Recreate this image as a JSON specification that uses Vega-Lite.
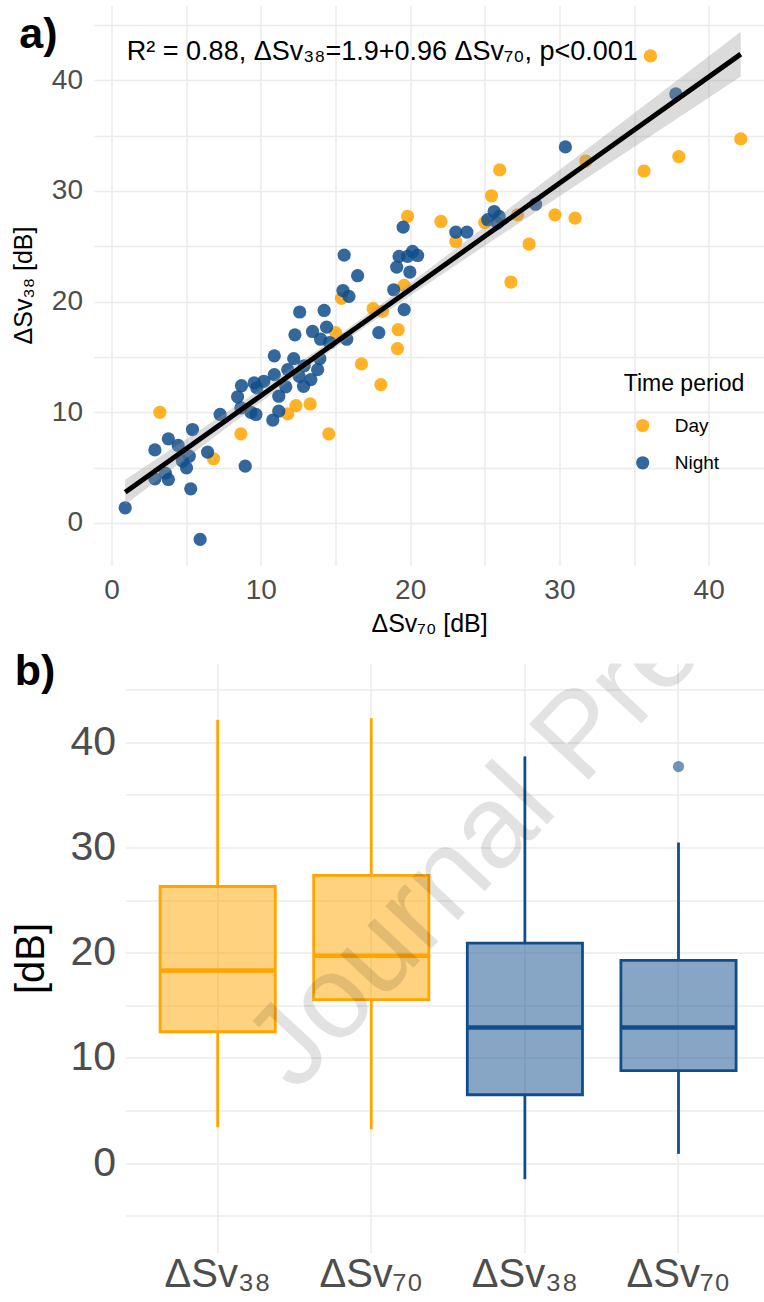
{
  "$schema": "https://vega.github.io/schema/vega-lite/v6.json",
  "padding": {"left": 10.5, "top": 5, "right": 0, "bottom": 0},
  "columns": 1,
  "align": "none",
  "spacing": 14.5,
  "config": {
    "font": "Liberation Sans",
    "view": {"stroke": null},
    "axis": {"domain": false, "ticks": false, "grid": true, "gridColor": "#EBEBEB", "gridWidth": 1.6, "labelColor": "#4D4D4D", "titleColor": "#000000", "titleFontWeight": "normal", "labelOverlap": false, "labelFlush": false}
  },
  "resolve": {"scale": {"x": "independent", "y": "independent", "color": "independent"}, "legend": {"color": "independent"}},
  "datasets": {
    "points": [
      {"period": "Day", "sv70": 36.1, "sv38": 42.2},
      {"period": "Day", "sv70": 42.15, "sv38": 34.7},
      {"period": "Day", "sv70": 38.0, "sv38": 33.1},
      {"period": "Day", "sv70": 35.67, "sv38": 31.8},
      {"period": "Day", "sv70": 31.77, "sv38": 32.7},
      {"period": "Day", "sv70": 26.0, "sv38": 31.9},
      {"period": "Day", "sv70": 25.45, "sv38": 29.56},
      {"period": "Day", "sv70": 29.7, "sv38": 27.84},
      {"period": "Day", "sv70": 31.05, "sv38": 27.54},
      {"period": "Day", "sv70": 27.2, "sv38": 27.84},
      {"period": "Day", "sv70": 25.0, "sv38": 27.15},
      {"period": "Day", "sv70": 27.97, "sv38": 25.2},
      {"period": "Day", "sv70": 26.75, "sv38": 21.77},
      {"period": "Day", "sv70": 19.83, "sv38": 27.7},
      {"period": "Day", "sv70": 22.06, "sv38": 27.24},
      {"period": "Day", "sv70": 23.06, "sv38": 25.43},
      {"period": "Day", "sv70": 19.6, "sv38": 21.46},
      {"period": "Day", "sv70": 17.52, "sv38": 19.36},
      {"period": "Day", "sv70": 18.15, "sv38": 19.12},
      {"period": "Day", "sv70": 19.2, "sv38": 17.46},
      {"period": "Day", "sv70": 19.15, "sv38": 15.75},
      {"period": "Day", "sv70": 16.74, "sv38": 14.37},
      {"period": "Day", "sv70": 18.04, "sv38": 12.5},
      {"period": "Day", "sv70": 15.4, "sv38": 20.3},
      {"period": "Day", "sv70": 15.0, "sv38": 17.2},
      {"period": "Day", "sv70": 13.3, "sv38": 10.75},
      {"period": "Day", "sv70": 12.35, "sv38": 10.6},
      {"period": "Day", "sv70": 11.8, "sv38": 9.85},
      {"period": "Day", "sv70": 14.55, "sv38": 8.05},
      {"period": "Day", "sv70": 8.66, "sv38": 8.05},
      {"period": "Day", "sv70": 3.23, "sv38": 10.0},
      {"period": "Day", "sv70": 6.83, "sv38": 5.8},
      {"period": "Night", "sv70": 15.5, "sv38": 21.0},
      {"period": "Night", "sv70": 12.6, "sv38": 19.06},
      {"period": "Night", "sv70": 14.24, "sv38": 19.2},
      {"period": "Night", "sv70": 14.4, "sv38": 17.7},
      {"period": "Night", "sv70": 12.28, "sv38": 17.0},
      {"period": "Night", "sv70": 13.46, "sv38": 17.3},
      {"period": "Night", "sv70": 14.0, "sv38": 16.6},
      {"period": "Night", "sv70": 14.6, "sv38": 16.3},
      {"period": "Night", "sv70": 15.75, "sv38": 16.6},
      {"period": "Night", "sv70": 10.9, "sv38": 15.1},
      {"period": "Night", "sv70": 12.2, "sv38": 14.85},
      {"period": "Night", "sv70": 13.95, "sv38": 14.85},
      {"period": "Night", "sv70": 12.9, "sv38": 14.2},
      {"period": "Night", "sv70": 13.8, "sv38": 13.85},
      {"period": "Night", "sv70": 11.8, "sv38": 13.85},
      {"period": "Night", "sv70": 10.9, "sv38": 13.4},
      {"period": "Night", "sv70": 12.57, "sv38": 13.25},
      {"period": "Night", "sv70": 13.35, "sv38": 12.95},
      {"period": "Night", "sv70": 10.2, "sv38": 12.8},
      {"period": "Night", "sv70": 9.55, "sv38": 12.65},
      {"period": "Night", "sv70": 8.7, "sv38": 12.4},
      {"period": "Night", "sv70": 9.73, "sv38": 12.2},
      {"period": "Night", "sv70": 11.67, "sv38": 12.3},
      {"period": "Night", "sv70": 12.86, "sv38": 12.35},
      {"period": "Night", "sv70": 8.44, "sv38": 11.4},
      {"period": "Night", "sv70": 11.2, "sv38": 11.45},
      {"period": "Night", "sv70": 8.66, "sv38": 10.4},
      {"period": "Night", "sv70": 9.33, "sv38": 10.0},
      {"period": "Night", "sv70": 9.67, "sv38": 9.8},
      {"period": "Night", "sv70": 7.27, "sv38": 9.8},
      {"period": "Night", "sv70": 10.8, "sv38": 9.3},
      {"period": "Night", "sv70": 11.2, "sv38": 10.1},
      {"period": "Night", "sv70": 5.42, "sv38": 8.44},
      {"period": "Night", "sv70": 3.8, "sv38": 7.6},
      {"period": "Night", "sv70": 2.9, "sv38": 6.6},
      {"period": "Night", "sv70": 4.46, "sv38": 7.0},
      {"period": "Night", "sv70": 5.2, "sv38": 6.03},
      {"period": "Night", "sv70": 6.43, "sv38": 6.4},
      {"period": "Night", "sv70": 4.75, "sv38": 5.58},
      {"period": "Night", "sv70": 5.02, "sv38": 4.98},
      {"period": "Night", "sv70": 8.95, "sv38": 5.13},
      {"period": "Night", "sv70": 2.9, "sv38": 3.99},
      {"period": "Night", "sv70": 3.8, "sv38": 3.93},
      {"period": "Night", "sv70": 3.6, "sv38": 4.5},
      {"period": "Night", "sv70": 5.3, "sv38": 3.08},
      {"period": "Night", "sv70": 0.91, "sv38": 1.37},
      {"period": "Night", "sv70": 5.93, "sv38": -1.49},
      {"period": "Night", "sv70": 37.8, "sv38": 38.76},
      {"period": "Night", "sv70": 30.4, "sv38": 33.98},
      {"period": "Night", "sv70": 28.4, "sv38": 28.8},
      {"period": "Night", "sv70": 25.63, "sv38": 28.14},
      {"period": "Night", "sv70": 25.96, "sv38": 27.7},
      {"period": "Night", "sv70": 25.2, "sv38": 27.4},
      {"period": "Night", "sv70": 25.85, "sv38": 27.1},
      {"period": "Night", "sv70": 19.53, "sv38": 26.73},
      {"period": "Night", "sv70": 23.06, "sv38": 26.28},
      {"period": "Night", "sv70": 23.8, "sv38": 26.28},
      {"period": "Night", "sv70": 15.58, "sv38": 24.2},
      {"period": "Night", "sv70": 19.26, "sv38": 24.08},
      {"period": "Night", "sv70": 20.16, "sv38": 24.53},
      {"period": "Night", "sv70": 20.5, "sv38": 24.17},
      {"period": "Night", "sv70": 19.83, "sv38": 24.08},
      {"period": "Night", "sv70": 19.1, "sv38": 23.12},
      {"period": "Night", "sv70": 19.98, "sv38": 22.67},
      {"period": "Night", "sv70": 16.48, "sv38": 22.34},
      {"period": "Night", "sv70": 15.9, "sv38": 20.47},
      {"period": "Night", "sv70": 18.9, "sv38": 21.07},
      {"period": "Night", "sv70": 19.6, "sv38": 19.27},
      {"period": "Night", "sv70": 17.9, "sv38": 17.2}
    ],
    "band": [
      {"sv70": 0.91, "fit": 2.774, "lo": 1.653, "hi": 3.895},
      {"sv70": 5, "fit": 6.7, "lo": 5.843, "hi": 7.557},
      {"sv70": 10, "fit": 11.5, "lo": 10.921, "hi": 12.079},
      {"sv70": 15, "fit": 16.3, "lo": 15.85, "hi": 16.75},
      {"sv70": 20, "fit": 21.1, "lo": 20.521, "hi": 21.679},
      {"sv70": 25, "fit": 25.9, "lo": 25.043, "hi": 26.757},
      {"sv70": 30, "fit": 30.7, "lo": 29.518, "hi": 31.882},
      {"sv70": 35, "fit": 35.5, "lo": 33.974, "hi": 37.026},
      {"sv70": 42.15, "fit": 42.364, "lo": 40.334, "hi": 44.394}
    ],
    "boxes": [
      {"grp": "Day_38", "period": "Day", "lower": 3.41, "q1": 12.49, "median": 18.31, "q3": 26.3, "upper": 42.15},
      {"grp": "Day_70", "period": "Day", "lower": 3.21, "q1": 15.54, "median": 19.72, "q3": 27.35, "upper": 42.3},
      {"grp": "Night_38", "period": "Night", "lower": -1.53, "q1": 6.5, "median": 12.89, "q3": 20.92, "upper": 38.67},
      {"grp": "Night_70", "period": "Night", "lower": 0.88, "q1": 8.8, "median": 12.89, "q3": 19.28, "upper": 30.48}
    ],
    "outliers": [
      {"grp": "Night_70", "period": "Night", "value": 37.7}
    ]
  },
  "concat": [
    {
      "width": 639,
      "height": 560,
      "layer": [
        {
          "data": {"name": "points"},
          "mark": {"type": "circle", "size": 175, "opacity": 0.85},
          "encoding": {
            "x": {"field": "sv70", "type": "quantitative", "scale": {"domain": [-1.2, 43.74], "range": [-31.8, 639], "nice": false, "zero": false},
              "axis": {"values": [0, 5, 10, 15, 20, 25, 30, 35, 40], "labelExpr": "datum.value % 10 == 0 ? datum.label : ''", "labelFontSize": 28, "labelPadding": 11, "title": "ΔSv₇₀ [dB]", "titleFontSize": 25, "titlePadding": 7}},
            "y": {"field": "sv38", "type": "quantitative", "scale": {"domain": [-3.8, 46.8], "nice": false, "zero": false},
              "axis": {"values": [0, 5, 10, 15, 20, 25, 30, 35, 40, 45], "labelExpr": "datum.value % 10 == 0 ? datum.label : ''", "labelFontSize": 28, "labelPadding": 43, "title": "ΔSv₃₈ [dB]", "titleFontSize": 25, "titlePadding": 15.2}},
            "color": {"field": "period", "type": "nominal", "scale": {"domain": ["Day", "Night"], "range": ["#FFA500", "#104E8B"]},
              "legend": {"orient": "none", "legendX": 498.2, "legendY": 368, "title": "Time period", "titleFontSize": 23, "titleFontWeight": "normal", "titleColor": "#000000", "titlePadding": 20, "labelFontSize": 19, "labelColor": "#000000", "symbolType": "circle", "symbolSize": 175, "symbolOpacity": 0.85, "symbolStrokeWidth": 0, "symbolOffset": 9.5, "labelOffset": 22.5, "rowPadding": 17.3, "padding": 0}}
          }
        },
        {
          "data": {"name": "band"},
          "mark": {"type": "area", "color": "#999999", "opacity": 0.35},
          "encoding": {
            "x": {"field": "sv70", "type": "quantitative"},
            "y": {"field": "lo", "type": "quantitative"},
            "y2": {"field": "hi"}
          }
        },
        {
          "data": {"name": "band"},
          "mark": {"type": "line", "color": "#000000", "strokeWidth": 5},
          "encoding": {
            "x": {"field": "sv70", "type": "quantitative"},
            "y": {"field": "fit", "type": "quantitative"}
          }
        },
        {
          "data": {"values": [{}]},
          "mark": {"type": "text", "text": "R² = 0.88, ΔSv₃₈=1.9+0.96 ΔSv₇₀, p<0.001", "fontSize": 27, "align": "left", "baseline": "alphabetic", "color": "#000000"},
          "encoding": {
            "x": {"datum": 1.02, "type": "quantitative"},
            "y": {"datum": 41.83, "type": "quantitative"}
          }
        },
        {
          "data": {"values": [{}]},
          "mark": {"type": "text", "text": "a)", "fontSize": 43, "fontWeight": "bold", "align": "left", "baseline": "top", "color": "#000000"},
          "encoding": {
            "x": {"datum": -6.19, "type": "quantitative"},
            "y": {"datum": 45.95, "type": "quantitative"}
          }
        }
      ]
    },
    {
      "width": 639,
      "height": 589,
      "layer": [
        {
          "data": {"name": "boxes"},
          "mark": {"type": "rule", "strokeWidth": 2.8},
          "encoding": {
            "x": {"field": "grp", "type": "nominal", "sort": null, "scale": {"domain": ["Day_38", "Day_70", "Night_38", "Night_70"], "paddingInner": 0.25, "paddingOuter": 0.205, "align": 0.549},
              "axis": {"title": null, "grid": true, "bandPosition": 0.5, "labelAngle": 0, "labelExpr": "indexof(datum.value, '38') >= 0 ? 'ΔSv₃₈' : 'ΔSv₇₀'", "labelFontSize": 40, "labelPadding": 2}},
            "y": {"field": "lower", "type": "quantitative", "scale": {"domain": [-8.5, 47.5], "nice": false, "zero": false},
              "axis": {"values": [-5, 0, 5, 10, 15, 20, 25, 30, 35, 40, 45], "labelExpr": "datum.value % 10 == 0 ? datum.label : ''", "labelFontSize": 41, "labelPadding": 10, "title": "[dB]", "titleFontSize": 40, "titlePadding": 18.7}},
            "y2": {"field": "q1"},
            "color": {"field": "period", "type": "nominal", "scale": {"domain": ["Day", "Night"], "range": ["#FFA500", "#104E8B"]}, "legend": null}
          }
        },
        {
          "data": {"name": "boxes"},
          "mark": {"type": "rule", "strokeWidth": 2.8},
          "encoding": {
            "x": {"field": "grp", "type": "nominal"},
            "y": {"field": "q3", "type": "quantitative"},
            "y2": {"field": "upper"},
            "color": {"field": "period", "type": "nominal", "legend": null}
          }
        },
        {
          "data": {"name": "boxes"},
          "mark": {"type": "bar", "fillOpacity": 0.5, "strokeWidth": 2.8},
          "encoding": {
            "x": {"field": "grp", "type": "nominal"},
            "y": {"field": "q1", "type": "quantitative"},
            "y2": {"field": "q3"},
            "fill": {"field": "period", "type": "nominal", "scale": {"domain": ["Day", "Night"], "range": ["#FFA500", "#104E8B"]}, "legend": null},
            "stroke": {"field": "period", "type": "nominal", "scale": {"domain": ["Day", "Night"], "range": ["#FFA500", "#104E8B"]}, "legend": null}
          }
        },
        {
          "data": {"name": "boxes"},
          "mark": {"type": "bar", "fillOpacity": 0, "strokeWidth": 4.5},
          "encoding": {
            "x": {"field": "grp", "type": "nominal"},
            "y": {"field": "median", "type": "quantitative"},
            "y2": {"field": "median"},
            "stroke": {"field": "period", "type": "nominal", "legend": null}
          }
        },
        {
          "data": {"name": "outliers"},
          "mark": {"type": "circle", "size": 125, "opacity": 0.6},
          "encoding": {
            "x": {"field": "grp", "type": "nominal"},
            "y": {"field": "value", "type": "quantitative"},
            "color": {"field": "period", "type": "nominal", "legend": null}
          }
        },
        {
          "data": {"values": [{}]},
          "mark": {"type": "text", "text": "Journal Pre-proof", "angle": -47, "fontSize": 118, "color": "#000000", "opacity": 0.11, "align": "left", "baseline": "alphabetic", "clip": true, "dx": 114.4},
          "encoding": {
            "x": {"datum": "Day_38", "type": "nominal"},
            "y": {"datum": -1.37, "type": "quantitative"}
          }
        },
        {
          "data": {"values": [{}]},
          "mark": {"type": "text", "text": "b)", "fontSize": 43, "fontWeight": "bold", "align": "left", "baseline": "top", "color": "#000000", "dx": -203},
          "encoding": {
            "x": {"datum": "Day_38", "type": "nominal"},
            "y": {"datum": 48.69, "type": "quantitative"}
          }
        }
      ]
    }
  ]
}
